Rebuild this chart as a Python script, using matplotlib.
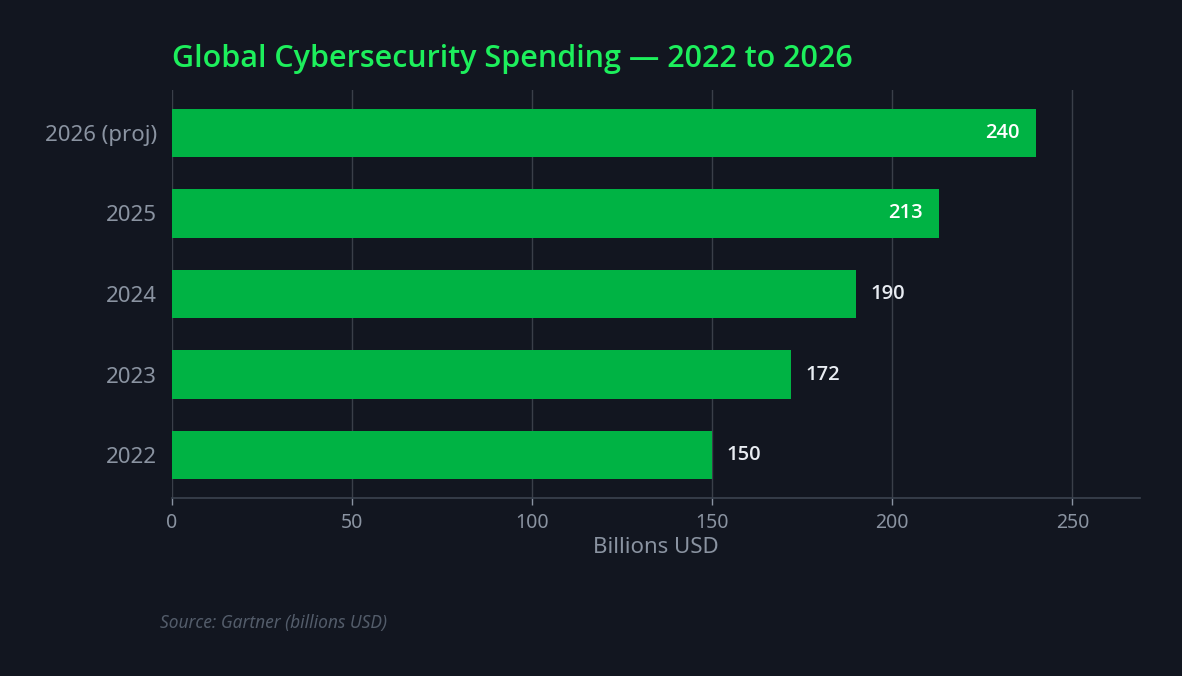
import matplotlib
matplotlib.use("Agg")
import matplotlib.pyplot as plt

# data
years = ["2022", "2023", "2024", "2025", "2026 (proj)"]
spending = [150, 172, 190, 213, 240]
x_ticks = [0, 50, 100, 150, 200, 250]

bg = "#121620"
bar_color = "#00b344"
title_color = "#1def5c"
tick_color = "#8a93a1"
grid_color = "#3a3f49"
bold_font = ['Open Sans', 'DejaVu Sans']

plt.rcParams['font.family'] = ['Noto Sans', 'DejaVu Sans']

fig = plt.figure(figsize=(11.82, 6.76), dpi=100, facecolor=bg)
ax = fig.add_axes([0.1455, 0.2633, 0.819, 0.6036], facecolor=bg)

bars = ax.barh(years, spending, height=0.6, color=bar_color, zorder=3)
ax.set_xlim(0, max(spending) * 1.12)
ax.set_xticks(x_ticks)

ax.grid(axis="x", color=grid_color, linewidth=1, zorder=0)
ax.grid(axis="y", visible=False)

for side in ["top", "right", "left"]:
  ax.spines[side].set_visible(False)
ax.spines["bottom"].set_color("#3b4350")
ax.spines["bottom"].set_linewidth(1.2)

ax.tick_params(axis="x", colors=tick_color, labelsize=14, length=5, width=1, pad=6)
ax.tick_params(axis="y", colors=tick_color, labelsize=16, length=0, pad=11)
ax.set_xlabel("Billions USD", color=tick_color, fontsize=16, labelpad=3)

# value labels: inside the bar for the long ones, outside otherwise
for rect, v in zip(bars, spending):
  y = rect.get_y() + rect.get_height() / 2
  if v > 200:
    ax.annotate(str(v), (v, y), xytext=(-12, 0), textcoords="offset points",
                ha="right", va="center", color="white", fontsize=14.5,
                fontweight="semibold", family=bold_font)
  else:
    ax.annotate(str(v), (v, y), xytext=(10, 0), textcoords="offset points",
                ha="left", va="center", color="#e8ecf2", fontsize=14.5,
                fontweight="semibold", family=bold_font)

fig.text(0.1455, 0.912, "Global Cybersecurity Spending \u2014 2022 to 2026",
         color=title_color, fontsize=22, fontweight="semibold", family=bold_font,
         ha="left", va="center")
fig.text(0.1355, 0.078, "Source: Gartner (billions USD)", color="#535c6a",
         fontsize=12.5, style="italic", ha="left", va="center")

fig.savefig("out.png", dpi=100, facecolor=bg)
